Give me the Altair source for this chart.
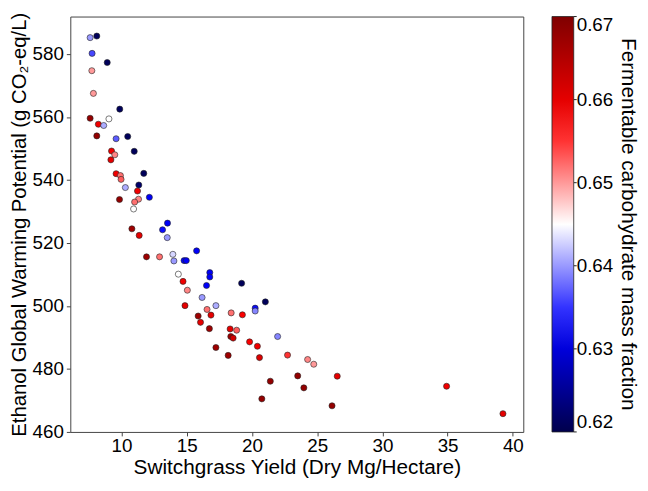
import altair as alt
import pandas as pd

# Switchgrass yield (Dry Mg/Hectare)
yield_x = [7.60, 8.11, 7.75, 8.91, 7.73, 7.85, 9.87, 7.60, 9.04, 8.23,
           8.64, 8.11, 9.59, 10.48, 9.24, 9.49, 9.19, 10.98, 9.59, 9.92,
           9.97, 11.71, 11.33, 10.30, 11.23, 11.31, 11.01, 10.93, 9.85, 12.14,
           13.53, 13.15, 10.80, 11.36, 13.51, 15.76, 11.92, 12.92, 13.94, 14.02,
           14.80, 14.97, 14.36, 14.72, 15.05, 16.77, 16.77, 16.52, 19.21, 16.18,
           21.03, 14.87, 16.56, 17.24, 18.41, 19.27, 20.25, 20.25, 15.88, 16.86,
           16.06, 16.74, 18.33, 18.83, 18.38, 18.56, 21.97, 19.82, 20.42, 17.24,
           18.18, 20.58, 22.73, 24.27, 24.74, 21.41, 23.51, 23.98, 20.76, 26.14,
           26.54, 34.92, 39.24]
# Ethanol global warming potential (g CO2-eq/L)
gwp_y = [585.2, 585.7, 580.2, 577.3, 574.7, 567.5, 562.5, 559.6, 559.4, 557.7,
         557.3, 554.0, 553.1, 553.8, 549.2, 548.0, 546.4, 549.1, 542.0, 541.4,
         540.2, 542.1, 538.4, 537.6, 536.5, 533.9, 533.0, 530.8, 533.8, 534.5,
         526.3, 524.2, 524.5, 522.4, 521.7, 517.5, 515.6, 515.6, 516.4, 514.3,
         514.4, 514.4, 510.1, 507.8, 505.0, 510.6, 509.2, 506.5, 507.2, 502.7,
         501.3, 500.1, 498.9, 500.1, 497.8, 497.2, 499.3, 498.4, 496.8, 497.1,
         494.8, 492.8, 492.7, 492.3, 490.3, 489.8, 490.3, 488.6, 487.2, 486.8,
         484.3, 483.6, 484.4, 483.0, 481.5, 476.1, 477.8, 474.0, 470.5, 468.3,
         477.7, 474.5, 465.8]
# Fermentable carbohydrate mass fraction
carb_frac = [0.640, 0.621, 0.636, 0.621, 0.650, 0.650, 0.621, 0.668, 0.645, 0.659,
             0.641, 0.668, 0.637, 0.621, 0.659, 0.651, 0.660, 0.621, 0.659, 0.652,
             0.653, 0.621, 0.622, 0.641, 0.659, 0.651, 0.652, 0.645, 0.668, 0.632,
             0.632, 0.633, 0.667, 0.660, 0.640, 0.632, 0.667, 0.652, 0.643, 0.640,
             0.632, 0.632, 0.645, 0.659, 0.651, 0.632, 0.632, 0.632, 0.621, 0.640,
             0.621, 0.660, 0.652, 0.641, 0.652, 0.658, 0.633, 0.639, 0.667, 0.660,
             0.660, 0.667, 0.660, 0.653, 0.667, 0.662, 0.639, 0.658, 0.659, 0.667,
             0.667, 0.661, 0.655, 0.651, 0.650, 0.668, 0.668, 0.668, 0.668, 0.668,
             0.660, 0.659, 0.660]

x_ticks = [10, 15, 20, 25, 30, 35, 40]
y_ticks = [460, 480, 500, 520, 540, 560, 580]
cb_ticks = [0.62, 0.63, 0.64, 0.65, 0.66, 0.67]
cb_title = "Fermentable carbohydrate mass fraction"

df = pd.DataFrame({"yield": yield_x, "gwp": gwp_y, "frac": carb_frac})
cb_df = pd.DataFrame({"v": cb_ticks})
title_df = pd.DataFrame({"t": [cb_title]})

FONT = "Liberation Sans"
W, H = 458, 420
CB_X = 487
CB_W = 22

seismic_domain = [0.62, 0.6325, 0.645, 0.6575, 0.67]
seismic_range = ["#00004c", "#0000ff", "#ffffff", "#ff0000", "#7f0000"]

points = alt.Chart(df).mark_circle(
    size=38, opacity=1, stroke="#222222", strokeWidth=0.6
).encode(
    x=alt.X("yield:Q",
            scale=alt.Scale(domain=[6.08, 40.8], nice=False, zero=False),
            axis=alt.Axis(values=x_ticks, title="Switchgrass Yield (Dry Mg/Hectare)",
                          grid=False, domain=False, tickSize=4, tickColor="#444444",
                          labelFontSize=19, titleFontSize=21, labelFont=FONT, titleFont=FONT,
                          titleFontWeight="normal", labelColor="black", titleColor="black",
                          labelPadding=1, titlePadding=1)),
    y=alt.Y("gwp:Q",
            scale=alt.Scale(domain=[460, 591.9], nice=False, zero=False),
            axis=alt.Axis(values=y_ticks, title="Ethanol Global Warming Potential (g CO₂-eq/L)",
                          grid=False, domain=False, tickSize=4, tickColor="#444444",
                          labelFontSize=19, titleFontSize=20.5, labelFont=FONT, titleFont=FONT,
                          titleFontWeight="normal", labelColor="black", titleColor="black",
                          labelPadding=3, titlePadding=3)),
    color=alt.Color("frac:Q",
                    scale=alt.Scale(domain=seismic_domain, range=seismic_range, interpolate="rgb"),
                    legend=alt.Legend(orient="none", legendX=CB_X, legendY=0, direction="vertical",
                                      gradientLength=H, gradientThickness=CB_W,
                                      gradientStrokeColor="#222222", gradientStrokeWidth=0.8,
                                      values=cb_ticks, format=".2f",
                                      labelFontSize=19, labelFont=FONT, labelColor="black",
                                      labelOffset=3, labelBaseline="middle",
                                      title=None))
)

cb_tick_marks = alt.Chart(cb_df).mark_rule(color="#222222", strokeWidth=1, clip=False).encode(
    y=alt.Y("v:Q", scale=alt.Scale(domain=[0.62, 0.67], range=[H, 0], nice=False, zero=False), axis=None),
    x=alt.value(CB_X + CB_W),
    x2=alt.value(CB_X + CB_W + 3),
)

cb_label = alt.Chart(title_df).mark_text(
    angle=90, fontSize=21, font=FONT, color="black", align="center", baseline="middle"
).encode(
    text="t:N",
    x=alt.value(564),
    y=alt.value(H / 2),
)

chart = alt.layer(points, cb_tick_marks, cb_label).resolve_scale(y="independent").properties(
    width=W, height=H,
    padding={"left": 63, "top": 6, "right": 118, "bottom": 50},
    autosize=alt.AutoSizeParams(type="none"),
    background="white",
).configure_view(stroke="#444444", strokeWidth=1)

chart.save("out.html", embed_options={"renderer": "svg", "actions": False})
